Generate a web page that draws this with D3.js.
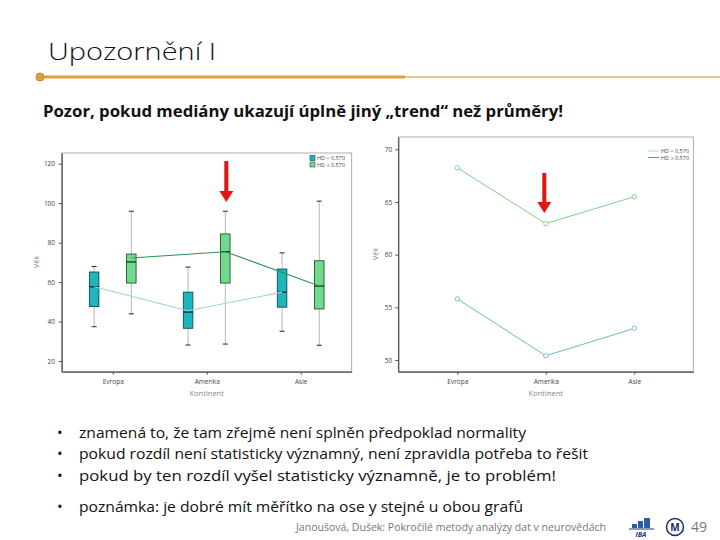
<!DOCTYPE html>
<html><head><meta charset="utf-8">
<script src="https://cdn.jsdelivr.net/npm/d3@7/dist/d3.min.js"></script>
<style>body{margin:0;background:#fff;} svg{display:block;}</style>
</head><body>
<svg id="s" width="720" height="540"></svg>
<script>
// ---- data ----
const categories = ["Evropa", "Amerika", "Asie"];
const groups = ["HD < 0,570", "HD ≥ 0,570"];
// boxplot stats [lowWhisker, q1, median, q3, highWhisker] per category
const boxLow  = [[37.4, 47.6, 57.6, 65.1, 67.9], [28.1, 36.6, 44.8, 54.9, 67.6], [35.1, 47.3, 54.9, 66.6, 74.8]];
const boxHigh = [[43.9, 59.5, 70.2, 74.2, 95.9], [28.6, 59.5, 75.4, 84.4, 95.9], [28.0, 46.4, 58.0, 70.8, 101.0]];
const medianLineLow  = [57.6, 45.5, 54.9];
const medianLineHigh = [72.2, 75.4, 58.0];
const leftTicks = [20, 40, 60, 80, 100, 120];
// means
const meanLow  = [55.8, 50.4, 53.0];
const meanHigh = [68.25, 62.95, 65.5];
const rightTicks = [50, 55, 60, 65, 70];
const bullets = [
  "znamená to, že tam zřejmě není splněn předpoklad normality",
  "pokud rozdíl není statisticky významný, není zpravidla potřeba to řešit",
  "pokud by ten rozdíl vyšel statisticky významně, je to problém!",
  "poznámka: je dobré mít měřítko na ose y stejné u obou grafů"
];

const svg = d3.select("#s");
const F = "'Open Sans', 'DejaVu Sans', sans-serif";

// ---- slide header ----
svg.append("text").attr("x", 48).attr("y", 60).attr("font-family", F).attr("font-weight", 300)
  .attr("font-size", 24).attr("fill", "#111").attr("textLength", 168).attr("lengthAdjust", "spacingAndGlyphs")
  .text("Upozornění I");
svg.append("line").attr("x1", 40).attr("x2", 405).attr("y1", 77).attr("y2", 77)
  .attr("stroke", "#dba23c").attr("stroke-width", 3);
svg.append("line").attr("x1", 405).attr("x2", 720).attr("y1", 77).attr("y2", 77)
  .attr("stroke", "#e2b35c").attr("stroke-width", 1.6);
svg.append("circle").attr("cx", 40).attr("cy", 77).attr("r", 4).attr("fill", "#dba23c").attr("stroke", "#c98a20");
svg.append("text").attr("x", 43).attr("y", 117).attr("font-family", F).attr("font-weight", 700)
  .attr("font-size", 16).attr("fill", "#111").attr("textLength", 520).attr("lengthAdjust", "spacingAndGlyphs")
  .text("Pozor, pokud mediány ukazují úplně jiný „trend“ než průměry!");

// ---- left chart: clustered boxplot ----
const L = {x0: 61.7, x1: 351.7, y0: 153, y1: 371.7};
const xL = d3.scalePoint().domain(categories).range([L.x0, L.x1]).padding(0.543);
const yL = d3.scaleLinear().domain([14.6, 125.4]).range([L.y1, L.y0]);
const off = 18.6, bw = 9.5;
const gL = svg.append("g");
gL.append("rect").attr("x", L.x0).attr("y", L.y0).attr("width", L.x1 - L.x0).attr("height", L.y1 - L.y0)
  .attr("fill", "none").attr("stroke", "#9a9a9a").attr("stroke-width", 0.8);

function drawBoxes(data, dx, fill, stroke) {
  data.forEach((d, i) => {
    const cx = xL(categories[i]) + dx;
    gL.append("line").attr("x1", cx).attr("x2", cx).attr("y1", yL(d[0])).attr("y2", yL(d[4]))
      .attr("stroke", "#b8b8b8").attr("stroke-width", 1);
    [d[0], d[4]].forEach(v => gL.append("line").attr("x1", cx - 2.5).attr("x2", cx + 2.5)
      .attr("y1", yL(v)).attr("y2", yL(v)).attr("stroke", "#222").attr("stroke-width", 1));
    gL.append("rect").attr("x", cx - bw / 2).attr("y", yL(d[3])).attr("width", bw).attr("height", yL(d[1]) - yL(d[3]))
      .attr("fill", fill).attr("stroke", stroke).attr("stroke-width", 0.9);
    gL.append("line").attr("x1", cx - bw / 2).attr("x2", cx + bw / 2).attr("y1", yL(d[2])).attr("y2", yL(d[2]))
      .attr("stroke", "#111").attr("stroke-width", 1.1);
  });
}
drawBoxes(boxLow, -off, "#1db6bd", "#0d4a50");
drawBoxes(boxHigh, off, "#72d98f", "#1f5a2c");

const lineL = (arr, dx) => d3.line().x((d, i) => xL(categories[i]) + dx).y(d => yL(d))(arr);
gL.append("path").attr("d", lineL(medianLineLow, -off)).attr("fill", "none").attr("stroke", "#9ed3da").attr("stroke-width", 1.1);
gL.append("path").attr("d", lineL(medianLineHigh, off)).attr("fill", "none").attr("stroke", "#2e9655").attr("stroke-width", 1.1);

const axL = gL.append("g").attr("transform", `translate(${L.x0},0)`)
  .call(d3.axisLeft(yL).tickValues(leftTicks).tickSize(3).tickSizeOuter(0));
const axLB = gL.append("g").attr("transform", `translate(0,${L.y1})`)
  .call(d3.axisBottom(xL).tickSize(3).tickSizeOuter(0));
[axL, axLB].forEach(a => {
  a.select(".domain").attr("stroke", "#333").attr("stroke-width", 1);
  a.selectAll(".tick line").attr("stroke", "#555");
  a.selectAll("text").attr("font-family", F).attr("font-size", 6.5).attr("fill", "#444");
});
axL.selectAll("text").attr("dx", "-0.1em");
axLB.selectAll("text").attr("dy", "0.9em");
gL.append("text").attr("x", xL("Amerika")).attr("y", 396).attr("text-anchor", "middle").attr("font-family", F)
  .attr("font-size", 7.5).attr("fill", "#888").text("Kontinent");
gL.append("text").attr("transform", "translate(39,262) rotate(-90)").attr("text-anchor", "middle").attr("font-family", F)
  .attr("font-size", 7.5).attr("fill", "#888").text("Věk");
// legend left
[["#1db6bd", "#0d4a50"], ["#72d98f", "#1f5a2c"]].forEach((c, i) => {
  gL.append("rect").attr("x", 310).attr("y", 155.5 + i * 6.5).attr("width", 5).attr("height", 5)
    .attr("fill", c[0]).attr("stroke", c[1]).attr("stroke-width", 0.6);
  gL.append("text").attr("x", 317).attr("y", 160 + i * 6.5).attr("font-family", F).attr("font-size", 5.5)
    .attr("fill", "#444").text(groups[i]);
});

// ---- right chart: means ----
const R = {x0: 398.3, x1: 693.3, y0: 137, y1: 371.7};
const xR = d3.scalePoint().domain(categories).range([R.x0, R.x1]).padding(0.667);
const yR = d3.scaleLinear().domain([48.89, 71.17]).range([R.y1, R.y0]);
const gR = svg.append("g");
gR.append("rect").attr("x", R.x0).attr("y", R.y0).attr("width", R.x1 - R.x0).attr("height", R.y1 - R.y0)
  .attr("fill", "none").attr("stroke", "#9a9a9a").attr("stroke-width", 0.8);
const lineR = d3.line().x((d, i) => xR(categories[i])).y(d => yR(d));
[[meanLow, "#68bcc4"], [meanHigh, "#7fcf8e"]].forEach(([arr, col]) => {
  gR.append("path").attr("d", lineR(arr)).attr("fill", "none").attr("stroke", col).attr("stroke-width", 1);
  arr.forEach((v, i) => gR.append("circle").attr("cx", xR(categories[i])).attr("cy", yR(v)).attr("r", 2.2)
    .attr("fill", "#fff").attr("stroke", col).attr("stroke-width", 0.9));
});
const axR = gR.append("g").attr("transform", `translate(${R.x0},0)`)
  .call(d3.axisLeft(yR).tickValues(rightTicks).tickSize(3).tickSizeOuter(0));
const axRB = gR.append("g").attr("transform", `translate(0,${R.y1})`)
  .call(d3.axisBottom(xR).tickSize(3).tickSizeOuter(0));
[axR, axRB].forEach(a => {
  a.select(".domain").attr("stroke", "#333").attr("stroke-width", 1);
  a.selectAll(".tick line").attr("stroke", "#555");
  a.selectAll("text").attr("font-family", F).attr("font-size", 6.5).attr("fill", "#444");
});
axRB.selectAll("text").attr("dy", "0.9em");
gR.append("text").attr("x", xR("Amerika")).attr("y", 396).attr("text-anchor", "middle").attr("font-family", F)
  .attr("font-size", 7.5).attr("fill", "#888").text("Kontinent");
gR.append("text").attr("transform", "translate(378,254) rotate(-90)").attr("text-anchor", "middle").attr("font-family", F)
  .attr("font-size", 7.5).attr("fill", "#888").text("Věk");
[["#9fd3da"], ["#3c9a58"]].forEach((c, i) => {
  gR.append("line").attr("x1", 648).attr("x2", 659).attr("y1", 151 + i * 6.5).attr("y2", 151 + i * 6.5)
    .attr("stroke", c[0]).attr("stroke-width", 0.9);
  gR.append("text").attr("x", 661).attr("y", 153 + i * 6.5).attr("font-family", F).attr("font-size", 5.5)
    .attr("fill", "#444").text(groups[i]);
});

// ---- red arrows ----
function arrow(x, yTop, yTip) {
  const p = d3.path();
  p.moveTo(x - 2, yTop); p.lineTo(x + 2, yTop); p.lineTo(x + 2, yTip - 11);
  p.lineTo(x + 7, yTip - 11); p.lineTo(x, yTip); p.lineTo(x - 7, yTip - 11); p.lineTo(x - 2, yTip - 11); p.closePath();
  svg.append("path").attr("d", p.toString()).attr("fill", "#e41414");
}
arrow(226.3, 161, 202);
arrow(544.3, 173, 213);

// ---- bullets ----
const by = [438, 459, 481, 512];
const bl = [447, 509, 477, 444];
bullets.forEach((t, i) => {
  svg.append("text").attr("x", 57).attr("y", by[i]).attr("font-family", F).attr("font-size", 15).attr("fill", "#111").text("•");
  svg.append("text").attr("x", 79).attr("y", by[i]).attr("font-family", F).attr("font-size", 15).attr("fill", "#111")
    .attr("textLength", bl[i]).attr("lengthAdjust", "spacingAndGlyphs").text(t);
});

// ---- footer ----
svg.append("text").attr("x", 296).attr("y", 531).attr("font-family", F).attr("font-size", 11).attr("fill", "#777")
  .attr("textLength", 310).attr("lengthAdjust", "spacingAndGlyphs")
  .text("Janoušová, Dušek: Pokročilé metody analýzy dat v neurovědách");
// IBA logo
const lg = svg.append("g");
[[632, 524, 5, 4], [638, 521, 5, 7], [644, 518, 6, 10]].forEach(r =>
  lg.append("rect").attr("x", r[0]).attr("y", r[1]).attr("width", r[2]).attr("height", r[3]).attr("fill", "#2a5ca8"));
lg.append("line").attr("x1", 629).attr("x2", 654).attr("y1", 529).attr("y2", 529).attr("stroke", "#1a3c78").attr("stroke-width", 1);
lg.append("text").attr("x", 641).attr("y", 537).attr("text-anchor", "middle").attr("font-family", F).attr("font-weight", 700)
  .attr("font-style", "italic").attr("font-size", 7).attr("fill", "#1a3c78").text("IBA");
lg.append("circle").attr("cx", 675).attr("cy", 527).attr("r", 8.5).attr("fill", "#fff").attr("stroke", "#1a2a66").attr("stroke-width", 1.5);
lg.append("text").attr("x", 675).attr("y", 531).attr("text-anchor", "middle").attr("font-family", F).attr("font-weight", 700)
  .attr("font-size", 10).attr("fill", "#1a2a66").text("M");
svg.append("text").attr("x", 691).attr("y", 532).attr("font-family", F).attr("font-size", 14).attr("fill", "#777").text("49");
</script>
</body></html>
